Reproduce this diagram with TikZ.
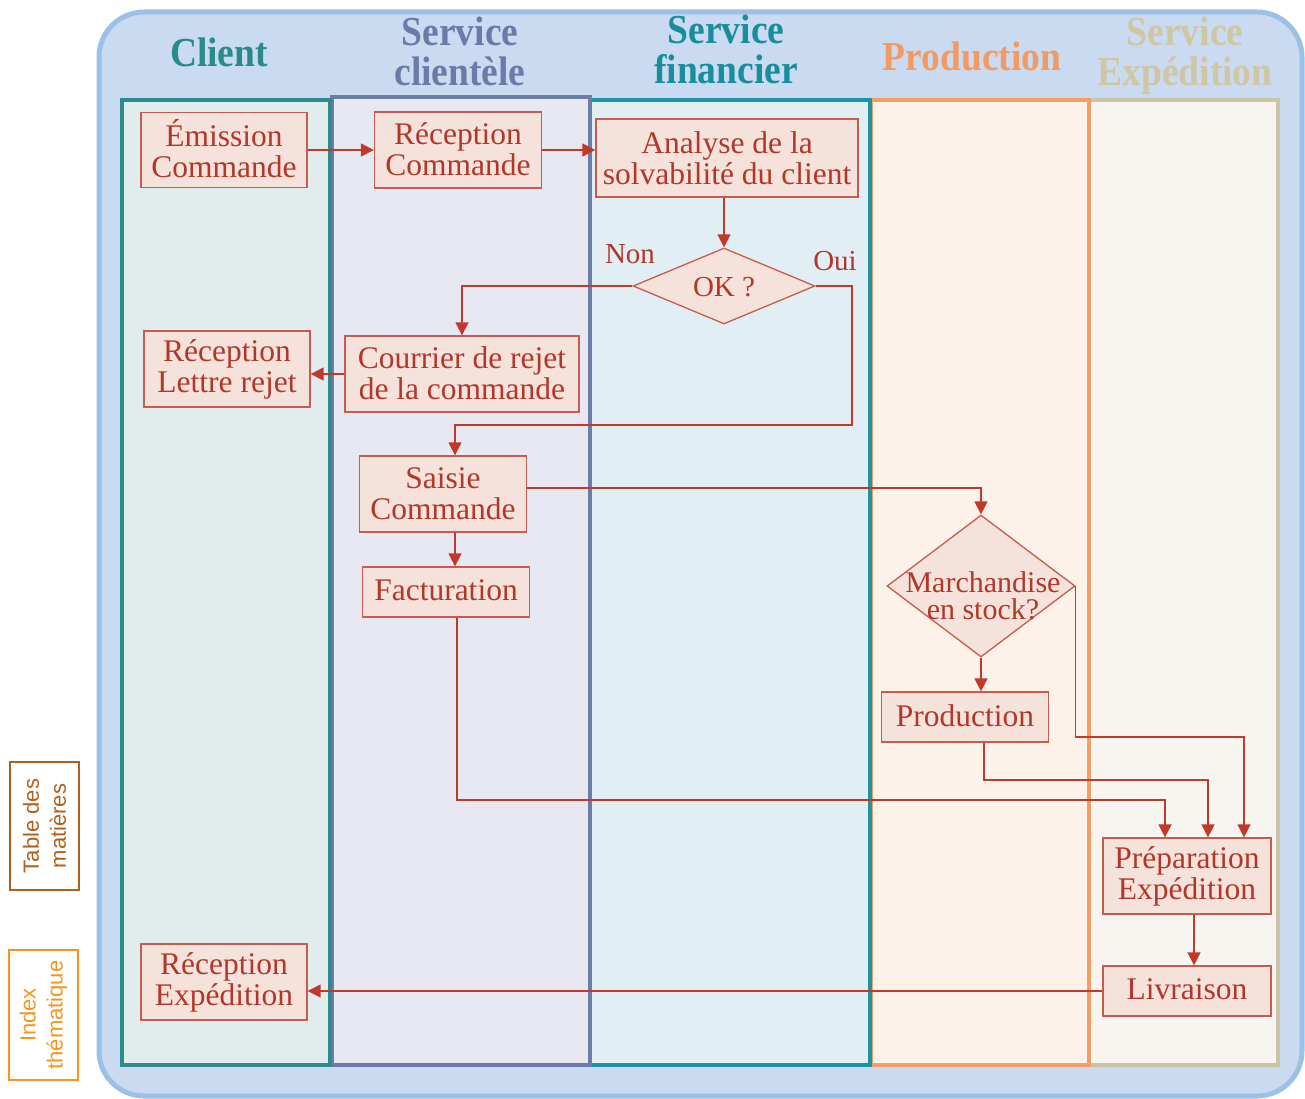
\documentclass[tikz,border=0pt]{standalone}
\usepackage{graphicx}
\usepackage{fontspec}
\setmainfont{Liberation Serif}
\newfontfamily\tabfont{Liberation Sans}
\usetikzlibrary{shapes.geometric,arrows.meta}
\definecolor{bgF}{HTML}{C9DAF1}
\definecolor{bgD}{HTML}{9DC0E7}
\definecolor{cliD}{HTML}{2E8B8B}
\definecolor{cliF}{HTML}{E1EDED}
\definecolor{cltD}{HTML}{6D7DAA}
\definecolor{cltF}{HTML}{E7E8F2}
\definecolor{finD}{HTML}{1B95A3}
\definecolor{finF}{HTML}{E1EEF4}
\definecolor{proD}{HTML}{F39D69}
\definecolor{proF}{HTML}{FDF2E9}
\definecolor{expD}{HTML}{C9C4A3}
\definecolor{expF}{HTML}{F6F5F0}
\definecolor{boxF}{HTML}{F5E2DA}
\definecolor{boxD}{HTML}{C85A50}
\definecolor{txt}{HTML}{B3362B}
\definecolor{lineC}{HTML}{C0392B}
\definecolor{cliH}{HTML}{2A8A87}
\definecolor{cltH}{HTML}{6B7BA8}
\definecolor{finH}{HTML}{168E9C}
\definecolor{proH}{HTML}{F39A62}
\definecolor{expH}{HTML}{CFC6A2}
\definecolor{tabA}{HTML}{B0601A}
\definecolor{tabB}{HTML}{F7941D}
\newcommand{\hdrtext}[1]{\scalebox{1}[1.1]{\begin{tabular}{@{}c@{}}#1\end{tabular}}}
\tikzset{
  lane/.style={line width=4pt},
  hdr/.style={font=\fontsize{37.5}{34}\selectfont\bfseries, align=center, inner sep=0pt},
  box/.style={draw=boxD, fill=boxF, line width=1.3pt, text=txt, font=\fontsize{31.5}{31}\selectfont, align=center, inner sep=0pt},
  dec/.style={diamond, draw=boxD, fill=boxF, line width=1.3pt, inner sep=0pt},
  conn/.style={draw=lineC, line width=1.4pt, -{Triangle[length=13pt,width=13pt]}},
  lbl/.style={text=txt, font=\fontsize{29}{30}\selectfont, inner sep=0pt},
  tabbox/.style={draw, line width=2.5pt, rotate=90, inner sep=0pt, align=center, font=\tabfont\fontsize{22}{27}\selectfont},
}
\begin{document}
\begin{tikzpicture}[x=1pt,y=-1pt]
\useasboundingbox (0,0) rectangle (1305,1099);
% outer frame
\draw[line width=5pt, draw=bgD, fill=bgF, rounded corners=45pt] (99,12) rectangle (1302,1096);
% lanes (right to left)
\draw[lane, draw=expD, fill=expF] (1089,100) rectangle (1278,1065);
\draw[lane, draw=proD, fill=proF] (871,100) rectangle (1089,1065);
\draw[lane, draw=finD, fill=finF] (590,100) rectangle (870,1065);
\draw[lane, draw=cltD, fill=cltF] (332,97) rectangle (590,1065);
\draw[lane, draw=cliD, fill=cliF] (122,100) rectangle (330,1065);
% headers
\node[hdr, text=cliH] (hcli) at (219,58) {\hdrtext{Client}};
\node[hdr, text=cltH] (hclt) at (460,57) {\hdrtext{Service\\clientèle}};
\node[hdr, text=finH] (hfin) at (726,55) {\hdrtext{Service\\financier}};
\node[hdr, text=proH] (hpro) at (972,62) {\hdrtext{Production}};
\node[hdr, text=expH] (hexp) at (1185,57) {\hdrtext{Service\\Expédition}};
% side tabs
\node[tabbox, draw=tabA, text=tabA, minimum width=128pt, minimum height=69pt] (tab1) at (44.5,826) {Table des\\matières};
\node[tabbox, draw=tabB, text=tabB, minimum width=130pt, minimum height=69pt] (tab2) at (43.5,1015) {Index\\thématique};
% process boxes
\node[box, minimum width=166pt, minimum height=75pt] (emi) at (224,150) {\raisebox{3pt}{Émission}\\\raisebox{3pt}{Commande}};
\node[box, minimum width=167pt, minimum height=76pt] (rec) at (458,150) {\raisebox{2pt}{Réception}\\\raisebox{2pt}{Commande}};
\node[box, minimum width=262pt, minimum height=78pt] (ana) at (727,158) {Analyse de la\\solvabilité du client};
\node[dec, minimum width=182pt, minimum height=76pt] (ok) at (724,286) {};
\node[lbl] (okt) at (724,287) {OK ?};
\node[lbl] (non) at (630,254) {Non};
\node[lbl] (oui) at (835,261) {Oui};
\node[box, minimum width=166pt, minimum height=76pt] (lrej) at (227,369) {Réception\\Lettre rejet};
\node[box, minimum width=234pt, minimum height=76pt] (cour) at (462,374) {\raisebox{2pt}{Courrier de rejet}\\\raisebox{2pt}{de la commande}};
\node[box, minimum width=167pt, minimum height=76pt] (sai) at (443,494) {Saisie\\Commande};
\node[box, minimum width=167pt, minimum height=50pt] (fac) at (446,592) {\raisebox{3pt}{Facturation}};
\node[dec, minimum width=188pt, minimum height=142pt] (mst) at (981,586) {};
\node[lbl, align=center, font=\fontsize{30}{27}\selectfont] (mstt) at (983,596) {Marchandise\\en stock?};
\node[box, minimum width=167pt, minimum height=50pt] (prod) at (965,717) {\raisebox{3pt}{Production}};
\node[box, minimum width=168pt, minimum height=76pt] (prep) at (1187,876) {Préparation\\Expédition};
\node[box, minimum width=168pt, minimum height=50pt] (liv) at (1187,991) {\raisebox{3pt}{Livraison}};
\node[box, minimum width=166pt, minimum height=76pt] (rexp) at (224,982) {Réception\\Expédition};
% helper coordinates
\coordinate (c0) at (852,425);
\coordinate (c1) at (1244,737);
\coordinate (c2) at (1208,780);
\coordinate (c3) at (1165,800);
% connectors
\draw[conn] (emi.east) -- (rec.west);
\draw[conn] (rec.east) -- (rec.east -| ana.west);
\draw[conn] (ana.south -| ok.north) -- (ok.north);
\draw[conn] (ok.west) -| (cour.north);
\draw[conn] (ok.east) -| (c0) -| ([xshift=12pt]sai.north);
\draw[conn] (cour.west) -- (cour.west -| lrej.east);
\draw[conn] ([yshift=6pt]sai.east) -| (mst.north);
\draw[conn] ([xshift=12pt]sai.south) -- ([xshift=12pt]sai.south |- fac.north);
\draw[conn] ([xshift=11pt]fac.south) |- (c3) -- (c3 |- prep.north);
\draw[conn] (mst.south) -- (mst.south |- prod.north);
\draw[conn] (mst.east) |- (c1) -- (c1 |- prep.north);
\draw[conn] ([xshift=19pt]prod.south) |- (c2) -- (c2 |- prep.north);
\draw[conn] ([xshift=7pt]prep.south) -- ([xshift=7pt]liv.north);
\draw[conn] (liv.west) -- (liv.west -| rexp.east);
\end{tikzpicture}
\end{document}
